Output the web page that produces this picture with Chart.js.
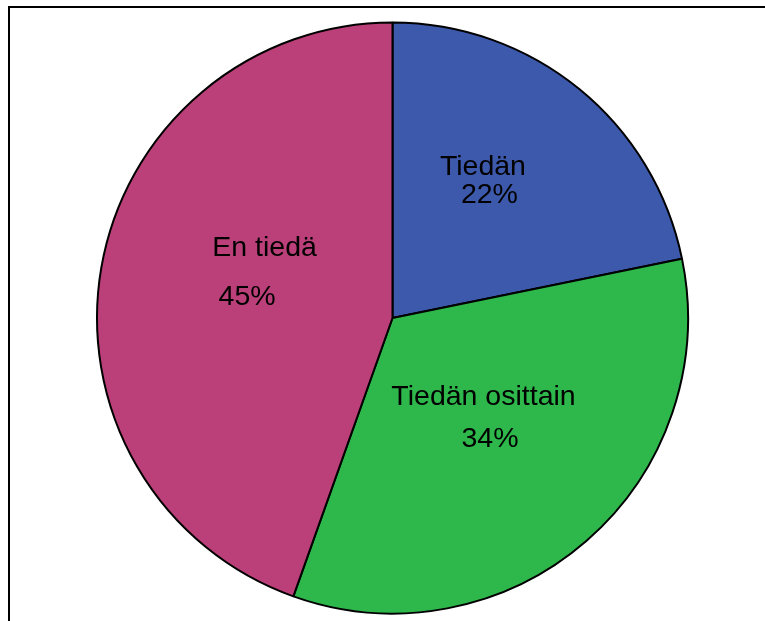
<!DOCTYPE html>
<html>
<head>
<meta charset="utf-8">
<script src="https://cdn.jsdelivr.net/npm/chart.js@4/dist/chart.umd.min.js"></script>
<style>
    html, body { margin: 0; padding: 0; background: #ffffff; }
    #wrap { position: relative; width: 765px; height: 621px; overflow: hidden; }
    #frame {
        position: absolute; left: 8px; top: 6px; right: -10px; bottom: -10px;
        border-left: 2px solid #000; border-top: 2px solid #000;
    }
    #pie { position: absolute; left: 0; top: 0; }
</style>
</head>
<body>
<div id="wrap">
    <div id="frame"></div>
    <canvas id="pie" width="765" height="621"></canvas>
</div>
<script>
// =====================
// ДАННЫЕ
// =====================
const categories = ['Tiedän', 'Tiedän osittain', 'En tiedä'];
const percents = [22, 34, 45];
const sliceColors = ['#3d59ab', '#2eb84b', '#bb4079'];

// подписи: строки текста и их смещение от центра круга (в долях радиуса)
const labelLines = [
    [{ text: 'Tiedän', dx: 0.306, dy: -0.484 }, { text: percents[0] + '%', dx: 0.328, dy: -0.389 }],
    [{ text: 'Tiedän osittain', dx: 0.308, dy: 0.294 }, { text: percents[1] + '%', dx: 0.330, dy: 0.437 }],
    [{ text: 'En tiedä', dx: -0.433, dy: -0.210 }, { text: percents[2] + '%', dx: -0.492, dy: -0.044 }]
];

const sliceLabels = {
    id: 'sliceLabels',
    afterDatasetsDraw(chart) {
        const ctx = chart.ctx;
        const arc = chart.getDatasetMeta(0).data[0];
        if (!arc) return;
        const cx = arc.x, cy = arc.y, r = arc.outerRadius;
        ctx.save();
        ctx.fillStyle = '#000';
        ctx.font = '28.5px "Liberation Sans", Arial, sans-serif';
        ctx.textAlign = 'center';
        ctx.textBaseline = 'alphabetic';
        labelLines.forEach(lines => {
            lines.forEach(l => ctx.fillText(l.text, cx + l.dx * r, cy + l.dy * r));
        });
        ctx.restore();
    }
};

new Chart(document.getElementById('pie'), {
    type: 'pie',
    data: {
        labels: categories,
        datasets: [{
            data: percents,
            backgroundColor: sliceColors,
            borderColor: '#000',
            borderWidth: 2,
            hoverOffset: 0,
            offset: 0
        }]
    },
    options: {
        responsive: false,
        animation: false,
        events: [],
        layout: { padding: { left: 96, right: 76, top: 21.5, bottom: 6.5 } },
        plugins: {
            legend: { display: false },
            tooltip: { enabled: false }
        }
    },
    plugins: [sliceLabels]
});
</script>
</body>
</html>
